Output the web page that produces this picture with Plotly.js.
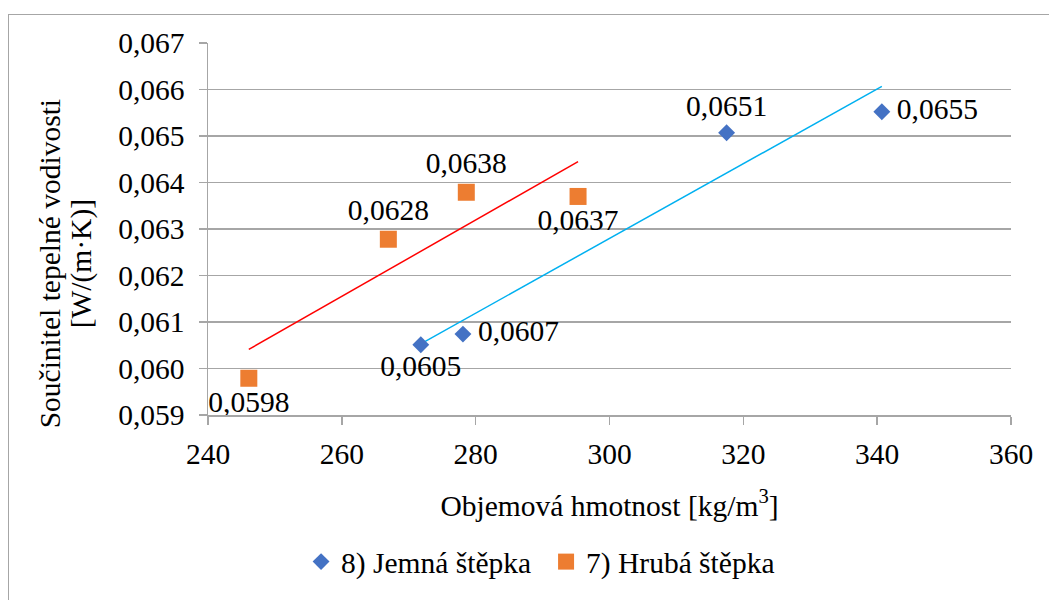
<!DOCTYPE html>
<html>
<head>
<meta charset="utf-8">
<script src="https://cdn.plot.ly/plotly-3.0.1.min.js"></script>
<style>
html,body{margin:0;padding:0;background:#fff;overflow:hidden;}
#frame{position:absolute;left:8px;top:14px;width:1100px;height:700px;border:1.5px solid #a6a6a6;box-sizing:border-box;}
#chart{position:absolute;left:0;top:0;width:1049px;height:600px;}
</style>
</head>
<body>
<div id="frame"></div>
<div id="chart"></div>
<script>
// Data
const jemnaName = "8) Jemná štěpka";
const jemnaX = [271.8, 278.1, 317.5, 340.7];
const jemnaY = [0.06051, 0.06074, 0.06507, 0.06552];
const jemnaPos = ["bottom center", "middle right", "top center", "middle right"];

const hrubaName = "7) Hrubá štěpka";
const hrubaX = [246.1, 266.95, 278.6, 295.3];
const hrubaY = [0.05979, 0.06278, 0.06379, 0.06370];
const hrubaPos = ["bottom center", "top center", "top center", "bottom center"];

const xTitle = "Objemová hmotnost [kg/m<sup>3</sup>]";
const yTitleLines = ["Součinitel tepelné vodivosti", "[W/(m·K)]"];

function fmt(v, pos){ const s = v.toFixed(4).replace('.', ','); return pos === "middle right" ? "\u2009" + s : s; }
function linfit(xs, ys){
  const n = xs.length;
  const mx = xs.reduce((a,b)=>a+b,0)/n, my = ys.reduce((a,b)=>a+b,0)/n;
  let sxy=0, sxx=0;
  for(let i=0;i<n;i++){ sxy += (xs[i]-mx)*(ys[i]-my); sxx += (xs[i]-mx)*(xs[i]-mx); }
  const b = sxy/sxx, a = my - b*mx;
  const x0 = Math.min(...xs), x1 = Math.max(...xs);
  return {x:[x0,x1], y:[a+b*x0, a+b*x1]};
}
const fitJ = linfit(jemnaX, jemnaY);
const fitH = linfit(hrubaX, hrubaY);

const FONT = "Liberation Serif";
const FS = 29.5;
const traces = [
  {x: fitH.x, y: fitH.y, mode:'lines', line:{color:'#ff0000', width:1.5}, showlegend:false, hoverinfo:'skip'},
  {x: fitJ.x, y: fitJ.y, mode:'lines', line:{color:'#00b0f0', width:1.5}, showlegend:false, hoverinfo:'skip'},
  {x: jemnaX, y: jemnaY, name: jemnaName, mode:'markers+text', type:'scatter',
   marker:{symbol:'diamond', size:13, color:'#4472c4'},
   text: jemnaY.map((v,i)=>fmt(v, jemnaPos[i])), textposition: jemnaPos, textfont:{family:FONT, size:FS, color:'#000'}},
  {x: hrubaX, y: hrubaY, name: hrubaName, mode:'markers+text', type:'scatter',
   marker:{symbol:'square', size:17, color:'#ed7d31'},
   text: hrubaY.map((v,i)=>fmt(v, hrubaPos[i])), textposition: hrubaPos, textfont:{family:FONT, size:FS, color:'#000'}}
];

const layout = {
  width:1049, height:600,
  paper_bgcolor:'rgba(0,0,0,0)', plot_bgcolor:'rgba(0,0,0,0)',
  separators:', ',
  font:{family:FONT, size:FS, color:'#000'},
  margin:{l:208, r:38, t:43, b:179},
  xaxis:{range:[240,360], dtick:20, tick0:240, showgrid:false, zeroline:false,
    showline:true, linecolor:'#a6a6a6', linewidth:1.5, ticks:'outside', ticklen:8, tickcolor:'#a6a6a6', tickwidth:1.5,
    ticklabelstandoff:4,
    tickfont:{family:FONT, size:FS, color:'#000'},
    title:{text:xTitle, font:{family:FONT, size:FS, color:'#000'}, standoff:26}},
  yaxis:{range:[0.059,0.067], dtick:0.001, tick0:0.059, tickformat:'.3f', showgrid:true, gridcolor:'#a6a6a6', gridwidth:1.5,
    zeroline:false, showline:true, linecolor:'#a6a6a6', linewidth:1.5, ticks:'outside', ticklen:8, tickcolor:'#a6a6a6', tickwidth:1.5,
    ticklabelstandoff:8,
    tickfont:{family:FONT, size:FS, color:'#000'}},
  annotations: yTitleLines.map((t,i)=>({
    text:t, textangle:-90, xref:'paper', yref:'paper', x:0, y:0.405,
    xshift: i===0 ? -158 : -127, xanchor:'center', yanchor:'middle', showarrow:false,
    font:{family:FONT, size:FS, color:'#000'}
  })),
  legend:{orientation:'h', x:0.421, xanchor:'center', y:-0.395, yanchor:'middle',
    font:{family:FONT, size:FS, color:'#000'}, itemwidth:30, traceorder:'normal', entrywidth:200},
  showlegend:true
};
Plotly.newPlot('chart', traces, layout, {displayModeBar:false, staticPlot:true});
</script>
</body>
</html>
